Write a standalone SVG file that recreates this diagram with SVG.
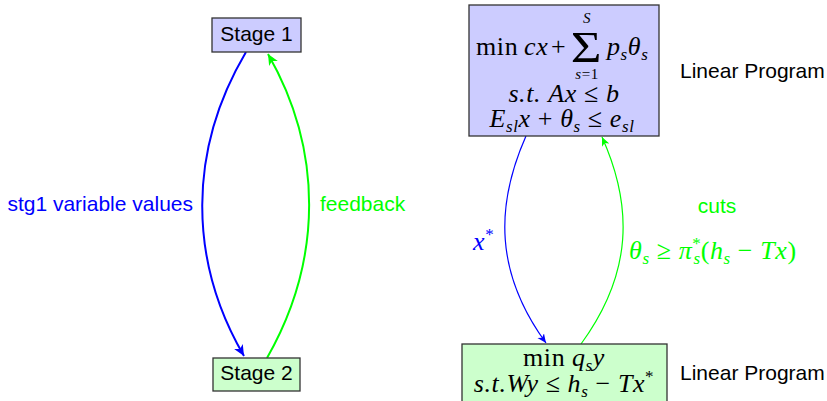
<svg xmlns="http://www.w3.org/2000/svg" width="827" height="401" viewBox="0 0 827 401">
<defs>
<style>
.box{stroke:#333;stroke-width:1.3}
.b1{fill:#ccccff}
.b2{fill:#ccffcc}
.sans{font-family:"Liberation Sans","DejaVu Sans",sans-serif;font-size:21px}
.m{font-family:"Liberation Serif","DejaVu Serif",serif;font-size:26px;letter-spacing:0.6px;fill:#000}
.i{font-style:italic}
.sub{font-size:17px}
.lim{font-size:15px}
.blue{stroke:#0000ff;fill:none}
.green{stroke:#00ff00;fill:none}
</style>
<marker id="ab" markerUnits="userSpaceOnUse" markerWidth="14" markerHeight="12" refX="11" refY="5" orient="auto" viewBox="0 0 14 10">
<path d="M0,0 L11,5 L0,10 L3,5 z" fill="#0000ff"/>
</marker>
<marker id="ag" markerUnits="userSpaceOnUse" markerWidth="14" markerHeight="12" refX="11" refY="5" orient="auto" viewBox="0 0 14 10">
<path d="M0,0 L11,5 L0,10 L3,5 z" fill="#00ff00"/>
</marker>
<marker id="abs" markerUnits="userSpaceOnUse" markerWidth="11" markerHeight="9" refX="9" refY="4" orient="auto" viewBox="0 0 11 8">
<path d="M0,0 L9,4 L0,8 L2.5,4 z" fill="#0000ff"/>
</marker>
<marker id="ags" markerUnits="userSpaceOnUse" markerWidth="11" markerHeight="9" refX="9" refY="4" orient="auto" viewBox="0 0 11 8">
<path d="M0,0 L9,4 L0,8 L2.5,4 z" fill="#00ff00"/>
</marker>
</defs>

<g id="connectors">
<path class="blue" stroke-width="2" d="M246,52 C188,150 188,260 244,356" marker-end="url(#ab)"/>
<path class="green" stroke-width="2" d="M267,358 C323,260 323,150 268,54" marker-end="url(#ag)"/>
<path class="blue" stroke-width="1.2" d="M526,136 C495,206 495,273 546,343" marker-end="url(#abs)"/>
<path class="green" stroke-width="1.2" d="M581,344 C633,273 633,206 602,137" marker-end="url(#ags)"/>
<text class="sans" x="193" y="211" text-anchor="end" fill="#0000ff">stg1 variable values</text>
<text class="sans" x="320" y="211" fill="#00ff00">feedback</text>
<text class="m i" x="473" y="250" style="fill:#0000ff">x<tspan class="sub" dy="-10" font-style="normal">*</tspan></text>
<text class="sans" x="717" y="213" text-anchor="middle" fill="#00ff00">cuts</text>
<text class="m" x="629" y="259" style="fill:#00ff00"><tspan class="i">θ</tspan><tspan class="sub i" dy="5">s</tspan><tspan dy="-5"> ≥ </tspan><tspan class="i">π</tspan><tspan class="sub" dy="-10">*</tspan><tspan class="sub i" dx="-8" dy="15">s</tspan><tspan dy="-5">(</tspan><tspan class="i">h</tspan><tspan class="sub i" dy="5">s</tspan><tspan dy="-5"> − </tspan><tspan class="i">Tx</tspan>)</text>
</g>

<g id="stage1">
<rect class="box b1" x="212" y="18" width="89" height="34"/>
<text class="sans" x="256.5" y="41" text-anchor="middle">Stage 1</text>
</g>

<g id="stage2">
<rect class="box b2" x="213" y="358" width="87" height="33"/>
<text class="sans" x="256.5" y="380" text-anchor="middle">Stage 2</text>
</g>

<g id="lp1">
<rect class="box b1" x="469" y="5" width="190" height="131"/>
<text class="m" x="476" y="55">min</text>
<text class="m i" x="524" y="55">cx</text>
<text class="m" x="551" y="55">+</text>
<text class="m" transform="translate(586,62) scale(1.2,1)" text-anchor="middle" style="font-size:44px;letter-spacing:0">Σ</text>
<text class="m i lim" x="587" y="23" text-anchor="middle">S</text>
<text class="m lim" x="587" y="79" text-anchor="middle"><tspan class="i">s</tspan>=1</text>
<text class="m" x="607" y="55"><tspan class="i">p</tspan><tspan class="sub i" dy="5">s</tspan><tspan class="i" dy="-5">θ</tspan><tspan class="sub i" dy="5">s</tspan></text>
<text class="m" x="564" y="102" text-anchor="middle"><tspan class="i">s.t.</tspan> <tspan class="i">Ax</tspan> ≤ <tspan class="i">b</tspan></text>
<text class="m" x="562" y="127" text-anchor="middle"><tspan class="i">E</tspan><tspan class="sub i" dy="5">sl</tspan><tspan class="i" dy="-5">x</tspan> + <tspan class="i">θ</tspan><tspan class="sub i" dy="5">s</tspan><tspan dy="-5"> ≤ </tspan><tspan class="i">e</tspan><tspan class="sub i" dy="5">sl</tspan></text>
</g>
<text class="sans" x="680" y="78">Linear Program</text>

<g id="lp2">
<rect class="box b2" x="462" y="344" width="205" height="60"/>
<text class="m" x="523" y="366">min<tspan class="i" x="572">q</tspan><tspan class="sub i" dy="5">s</tspan><tspan class="i" dy="-5">y</tspan></text>
<text class="m" x="564" y="392" text-anchor="middle"><tspan class="i">s.t.Wy</tspan> ≤ <tspan class="i">h</tspan><tspan class="sub i" dy="5">s</tspan><tspan dy="-5"> − </tspan><tspan class="i">Tx</tspan><tspan class="sub" dy="-10">*</tspan></text>
</g>
<text class="sans" x="680" y="380">Linear Program</text>
</svg>
